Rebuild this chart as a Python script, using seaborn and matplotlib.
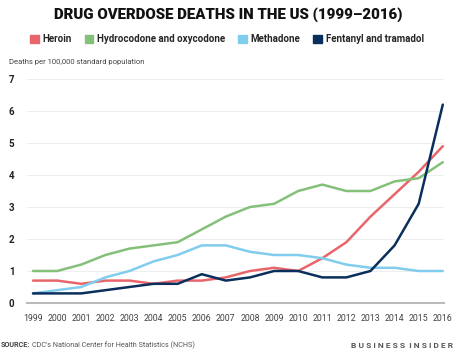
import numpy as np
import pandas as pd
import matplotlib
matplotlib.use("Agg")
import matplotlib.pyplot as plt
import matplotlib.patches as mpatches
import seaborn as sns

years = list(range(1999, 2017))
heroin = [0.7, 0.7, 0.6, 0.7, 0.7, 0.6, 0.7, 0.7, 0.8, 1.0, 1.1, 1.0, 1.4, 1.9, 2.7, 3.4, 4.1, 4.9]
hydrocodone = [1.0, 1.0, 1.2, 1.5, 1.7, 1.8, 1.9, 2.3, 2.7, 3.0, 3.1, 3.5, 3.7, 3.5, 3.5, 3.8, 3.9, 4.4]
methadone = [0.3, 0.4, 0.5, 0.8, 1.0, 1.3, 1.5, 1.8, 1.8, 1.6, 1.5, 1.5, 1.4, 1.2, 1.1, 1.1, 1.0, 1.0]
fentanyl = [0.3, 0.3, 0.3, 0.4, 0.5, 0.6, 0.6, 0.9, 0.7, 0.8, 1.0, 1.0, 0.8, 0.8, 1.0, 1.8, 3.1, 6.2]

series_names = ["Heroin", "Hydrocodone and oxycodone", "Methadone", "Fentanyl and tramadol"]
colors = ["#E8666B", "#85C07A", "#80CDEE", "#0A2F5C"]

df = pd.DataFrame({
    "year": years * 4,
    "value": heroin + hydrocodone + methadone + fentanyl,
    "drug": sum([[n] * len(years) for n in series_names], []),
})

sns.set_theme(style="white")
plt.rcParams["font.family"] = ["Roboto", "DejaVu Sans"]

fig = plt.figure(figsize=(4.56, 3.5), dpi=100)
ax = fig.add_axes([27 / 456, 47 / 350, 417 / 456, 224 / 350])

sns.lineplot(data=df, x="year", y="value", hue="drug", hue_order=series_names,
             palette=colors, linewidth=1.8, ax=ax, legend=False)

ax.set_xlim(1998.75, 2016.05)
ax.set_ylim(0, 7)
ax.set_yticks(range(0, 8))
ax.set_xticks(years)
ax.set_xticklabels([str(y) for y in years], fontsize=6.3, color="#444444")
ax.set_yticklabels([str(v) for v in range(0, 8)], fontsize=7, fontweight="bold", color="#222222")
ax.tick_params(axis="both", length=0, pad=8)
ax.tick_params(axis="y", pad=9)
ax.grid(axis="y", color="#EEEEEE", linewidth=0.8)
ax.set_axisbelow(True)
for s in ["top", "right", "left"]:
    ax.spines[s].set_visible(False)
ax.spines["bottom"].set_color("#BBBBBB")
ax.spines["bottom"].set_linewidth(1.5)
ax.set_xlabel("")
ax.set_ylabel("")

fig.text(0.5, 1 - 15 / 350, "DRUG OVERDOSE DEATHS IN THE US (1999\u20132016)",
         ha="center", va="center", fontsize=10.8, fontweight="black", color="#111111")

handles = [mpatches.Patch(color=c, label=n) for c, n in zip(colors, series_names)]
leg = fig.legend(handles=handles, loc="center", bbox_to_anchor=(227 / 456, 1 - 39 / 350), ncol=4,
                 frameon=False, handlelength=0.9, handleheight=0.9, handletextpad=0.4,
                 columnspacing=1.3, prop={"size": 7.0, "weight": "bold"})

fig.text(9 / 456, 1 - 62 / 350, "Deaths per 100,000 standard population",
         ha="left", va="center", fontsize=5.5, color="#444444")

src = fig.text(1 / 456, 1 - 345 / 350, "SOURCE:", ha="left", va="center", fontsize=5.2,
               fontweight="bold", color="#444444")
fig.canvas.draw()
bb = src.get_window_extent(renderer=fig.canvas.get_renderer())
fig.text(bb.x1 / fig.bbox.width + 2 / 456, 1 - 345 / 350,
         "CDC's National Center for Health Statistics (NCHS)",
         ha="left", va="center", fontsize=5.2, color="#555555")
fig.text(453 / 456, 1 - 345 / 350, "B U S I N E S S  I N S I D E R",
         ha="right", va="center", fontsize=6, fontweight="bold", color="#555555")

fig.savefig("out.png", dpi=100)
